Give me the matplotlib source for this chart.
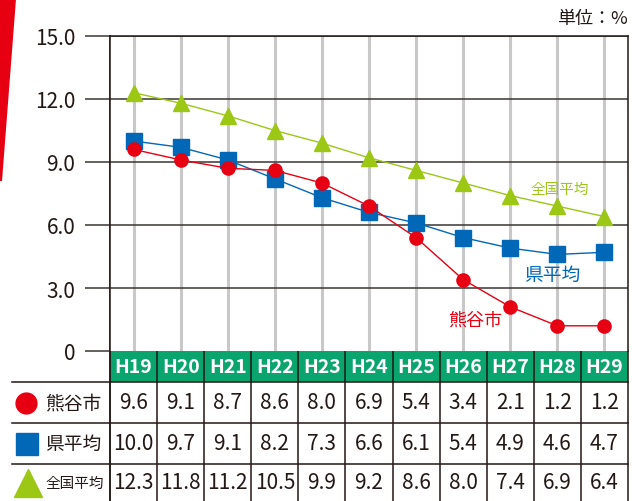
import matplotlib
matplotlib.use("Agg")
import matplotlib.pyplot as plt
from matplotlib.patches import Polygon, Rectangle
import numpy as np

plt.rcParams['font.family'] = ['Noto Sans CJK JP', 'DejaVu Sans']

years = ['H19', 'H20', 'H21', 'H22', 'H23', 'H24', 'H25', 'H26', 'H27', 'H28', 'H29']
kumagaya = [9.6, 9.1, 8.7, 8.6, 8.0, 6.9, 5.4, 3.4, 2.1, 1.2, 1.2]
kenheikin = [10.0, 9.7, 9.1, 8.2, 7.3, 6.6, 6.1, 5.4, 4.9, 4.6, 4.7]
zenkoku = [12.3, 11.8, 11.2, 10.5, 9.9, 9.2, 8.6, 8.0, 7.4, 6.9, 6.4]
series_names = ['熊谷市', '県平均', '全国平均']
yticks = [0, 3, 6, 9, 12, 15]
ytick_labels = ['0', '3.0', '6.0', '9.0', '12.0', '15.0']

RED = '#e60012'
BLUE = '#0068b7'
GREEN = '#9cc715'
HEAD = '#0aa56e'
INK = '#231815'

W, H = 632, 502
fig = plt.figure(figsize=(W / 100, H / 100), dpi=100)

# pixel layout
x0, x1 = 110, 628
y_top, y_zero = 37, 352
rows = [352, 383, 424, 465, 502]

ax = fig.add_axes([x0 / W, 1 - y_zero / H, (x1 - x0) / W, (y_zero - y_top) / H])
n = len(years)
xs = np.arange(n)
ax.set_xlim(-0.5, n - 0.5)
ax.set_ylim(0, 15)
for xv in xs:
    ax.axvline(xv, color='#c8c8c8', lw=2.2, zorder=0)
for yv in yticks[1:]:
    ax.axhline(yv, color='#3a3533', lw=1.1, zorder=1)

ax.plot(xs, zenkoku, color=GREEN, lw=1.0, marker='^', ms=12, zorder=3)
ax.plot(xs, kenheikin, color=BLUE, lw=1.0, marker='s', ms=11, zorder=4)
ax.plot(xs, kumagaya, color=RED, lw=1.0, marker='o', ms=9.5, zorder=5)

ax.set_xticks([])
ax.set_yticks(yticks)
ax.set_yticklabels(ytick_labels, fontsize=15, color=INK)
ax.tick_params(axis='y', length=18, width=1.1, color='#3a3533', pad=7)
for s in ['left', 'right', 'top']:
    ax.spines[s].set_color(INK)
    ax.spines[s].set_linewidth(1.1)
ax.spines['bottom'].set_visible(False)

ax.text(9.05, 7.7, series_names[2], color=GREEN, fontsize=10.5, ha='center', va='center')
ax.text(8.9, 3.65, series_names[1], color=BLUE, fontsize=13.5, ha='center', va='center')
ax.text(7.25, 1.5, series_names[0], color=RED, fontsize=13, ha='center', va='center')

# overlay in pixel coordinates for table and decorations
ov = fig.add_axes([0, 0, 1, 1], zorder=-1)
ov.set_xlim(0, W)
ov.set_ylim(H, 0)
ov.axis('off')

ov.add_patch(Polygon([(0, 0), (16, 0), (2, 182), (0, 182)], closed=True, color=RED, lw=0))
ov.text(628, 19, '単位：%', fontsize=13, color=INK, ha='right', va='center')

cw = (x1 - x0) / n
ov.add_patch(Rectangle((x0, rows[0]), x1 - x0, rows[1] - rows[0], color=HEAD, lw=0))
for i in range(n + 1):
    xv = x0 + i * cw
    ov.plot([xv, xv], [rows[0], H], color=INK, lw=1.1)
ov.plot([x0, x0], [y_top, H], color=INK, lw=1.1)
for r in rows[1:4]:
    ov.plot([12, x1], [r, r], color=INK, lw=1.1)

for i, yr in enumerate(years):
    ov.text(x0 + (i + 0.5) * cw, (rows[0] + rows[1]) / 2, yr, color='white',
            fontsize=14, fontweight='bold', ha='center', va='center')

data = [kumagaya, kenheikin, zenkoku]
markers = [('o', RED, 15, 26), ('s', BLUE, 16, 27), ('^', GREEN, 20, 28)]
label_fs = [13.5, 13.5, 10.5]
for j, vals in enumerate(data):
    cy = (rows[j + 1] + rows[j + 2]) / 2
    m, c, s, mx = markers[j]
    ov.plot([mx], [cy], marker=m, color=c, ms=s, ls='none')
    ov.text(45, cy, series_names[j], fontsize=label_fs[j], color=INK, ha='left', va='center')
    for i, v in enumerate(vals):
        ov.text(x0 + (i + 0.5) * cw, cy, f'{v:.1f}', fontsize=15, color=INK,
                ha='center', va='center')

fig.savefig('out.png', dpi=100)
